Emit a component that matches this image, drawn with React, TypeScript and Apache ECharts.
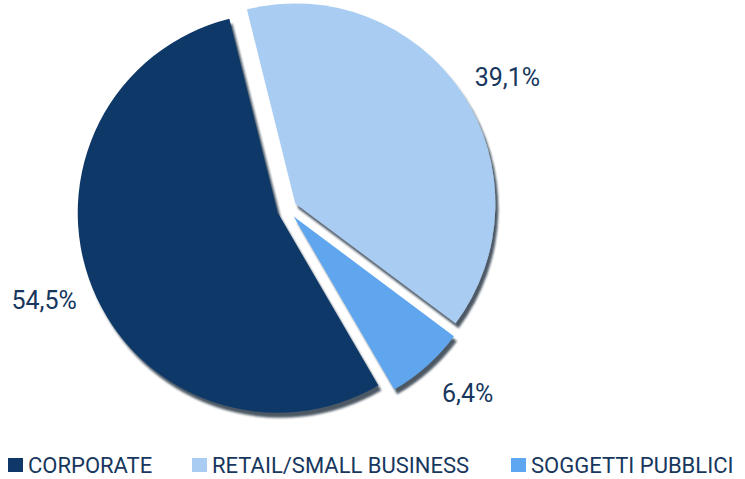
import React, { useEffect, useRef } from "react";
import * as echarts from "echarts";

const categories = ["RETAIL/SMALL BUSINESS", "SOGGETTI PUBBLICI", "CORPORATE"];
const values = [39.1, 6.4, 54.5];
const sliceColors = ["#A8CCF2", "#5EA6EF", "#0F3868"];
const legendOrder = ["CORPORATE", "RETAIL/SMALL BUSINESS", "SOGGETTI PUBBLICI"];
const legendLeft = [8, 192, 511];
const labelNudge = [
  [3, 13],
  [7, -10],
  [-1, -7],
];

const FONT = "Roboto, 'Noto Sans', sans-serif";
const TEXT_COLOR = "#17375E";

export default function App() {
  const ref = useRef<HTMLDivElement>(null);
  useEffect(() => {
    if (!ref.current) return;
    const chart = echarts.init(ref.current, null, { renderer: "svg" });
    const center = [287, 209];
    chart.setOption({
      animation: false,
      backgroundColor: "#ffffff",
      legend: legendOrder.map((name, i) => ({
        data: [name],
        left: legendLeft[i] - 5,
        top: 449,
        orient: "horizontal",
        icon: "rect",
        itemWidth: 15,
        itemHeight: 14,
        padding: 5,
        selectedMode: false,
        textStyle: { fontFamily: FONT, fontSize: 22, lineHeight: 22, color: TEXT_COLOR },
      })),
      series: [
        {
          type: "pie",
          center,
          radius: 200,
          startAngle: 104,
          clockwise: true,
          selectedMode: "multiple",
          selectedOffset: 10,
          label: { show: false },
          labelLine: { show: false },
          emphasis: { scale: false },
          itemStyle: {
            shadowColor: "rgba(25,35,50,0.75)",
            shadowBlur: 2,
            shadowOffsetX: 3,
            shadowOffsetY: 5,
          },
          data: categories.map((name, i) => ({
            name,
            value: values[i],
            selected: true,
            itemStyle: { color: sliceColors[i] },
          })),
        },
        {
          type: "pie",
          center,
          radius: [240, 276],
          startAngle: 104,
          clockwise: true,
          silent: true,
          itemStyle: { color: "rgba(0,0,0,0)" },
          label: {
            show: true,
            position: "inside",
            fontFamily: FONT,
            fontSize: 25,
            color: TEXT_COLOR,
            formatter: (p: any) => p.value.toFixed(1).replace(".", ",") + "%",
          },
          labelLine: { show: false },
          labelLayout: (p: any) => ({
            dx: labelNudge[p.dataIndex][0],
            dy: labelNudge[p.dataIndex][1],
          }),
          data: categories.map((name, i) => ({ name, value: values[i] })),
        },
      ],
    });
    return () => chart.dispose();
  }, []);
  return (
    <div
      ref={ref}
      style={{ position: "fixed", left: 0, top: 0, width: 745, height: 479 }}
    />
  );
}
